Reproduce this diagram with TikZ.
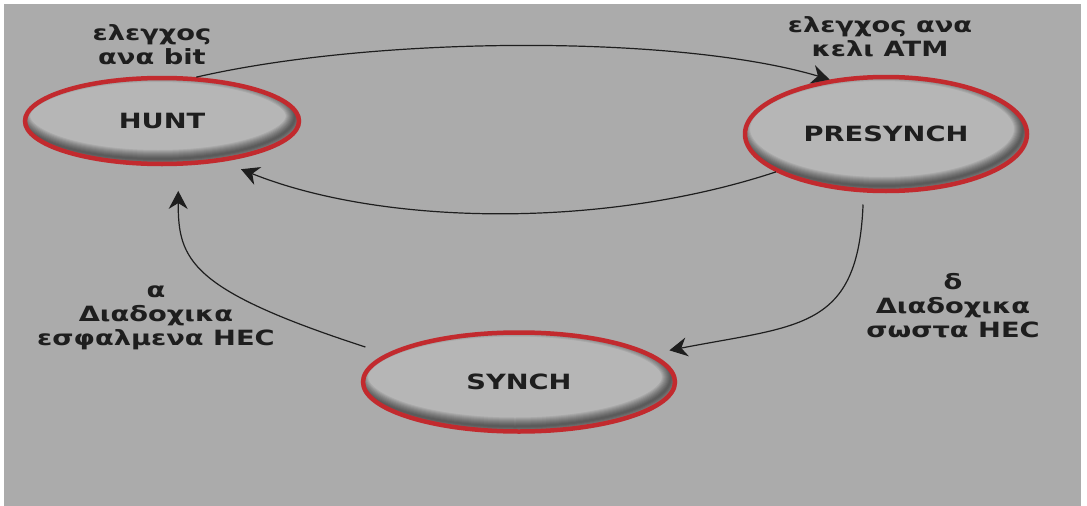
\documentclass[tikz,border=0pt]{standalone}
\usepackage{fontspec}
\newfontfamily\diagfont{DejaVu Sans}[FakeStretch=1.3]
\usetikzlibrary{shapes.geometric, arrows.meta, positioning, calc}

\definecolor{panelgray}{HTML}{ABABAB}
\definecolor{ringred}{HTML}{C22A2E}
\definecolor{statefill}{HTML}{B6B6B6}
\definecolor{inkgray}{HTML}{1E1E1E}

% dark rim inside the state rings, heavier to the lower right
\tikzset{inshade/.style={path picture={
  \foreach \w in {2,4,...,18}{
    \draw[black, line width=\w pt, opacity=0.07]
      let \p1=(path picture bounding box.north east),
          \p2=(path picture bounding box.center) in
      ({\x2-4pt},{\y2+5pt}) ellipse [x radius={\x1-\x2}, y radius={\y1-\y2}];
  }
}}}

\begin{document}
\begin{tikzpicture}[x=1pt,y=-1pt]
    \tikzstyle{state}=[ellipse,draw=ringred,line width=4.5pt,fill=statefill,inner sep=0pt,text=inkgray,font=\diagfont\bfseries\fontsize{21}{25}\selectfont,inshade]
    \tikzstyle{label}=[align=center,text=inkgray,inner sep=0pt,font=\diagfont\bfseries\fontsize{21}{24}\selectfont]
    \tikzstyle{edge}=[draw=inkgray,line width=1.2pt,-{Stealth[length=18pt,width=19pt]}]

    % panel
    \fill[white] (0,0) rectangle (1087,506);
    \fill[panelgray] (4,4) rectangle (1081,506);
    \useasboundingbox (0,0) rectangle (1087,506);

    \node[state,minimum width=274pt,minimum height=86pt] (hunt) at (162,121) {HUNT};
    \node[state,minimum width=282pt,minimum height=114pt] (presynch) at (886,134) {PRESYNCH};
    \node[state,minimum width=312pt,minimum height=99pt] (synch) at (519,382) {SYNCH};

    \node[label] (bitlbl) at (152,45) {ελεγχος\\ανα bit};
    \node[label] (celllbl) at (880,37) {ελεγχος ανα\\κελι ATM};
    \node[label] (alphalbl) at (156,318) {α\\Διαδοχικα\\εσφαλμενα HEC};
    \node[label] (deltalbl) at (953,306) {δ\\Διαδοχικα\\σωστα HEC};

    \path[edge] (hunt.52) .. controls (380,35) and (680,35) .. (presynch.136);
    \path[edge,shorten >=20pt] (presynch.199) .. controls (600,230) and (380,225) .. (hunt.-34);
    \path[edge,shorten <=12pt,shorten >=18pt] (presynch.249) .. controls (858,330) and (800,325) .. (synch.12);
    \path[edge,shorten <=22pt,shorten >=25pt] (synch.168) .. controls (190,290) and (178,260) .. (hunt.-70);
\end{tikzpicture}
\end{document}
